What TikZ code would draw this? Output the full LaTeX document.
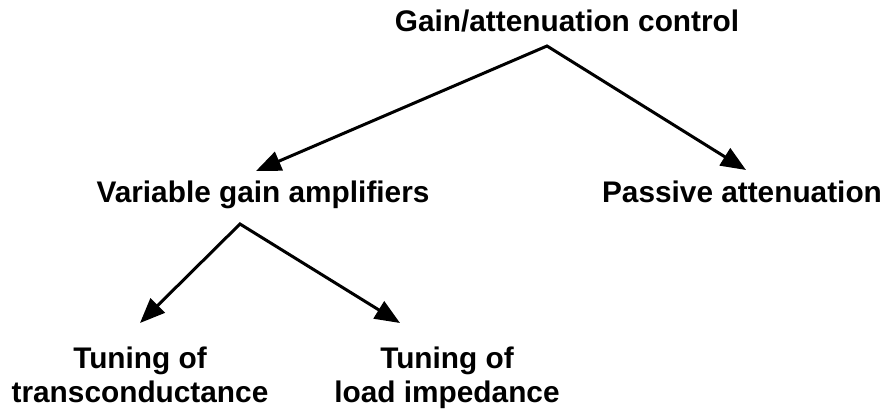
\documentclass[tikz,border=0pt]{standalone}
\usepackage{fontspec}
\setmainfont{Liberation Sans}
\usetikzlibrary{arrows.meta}
\begin{document}
\begin{tikzpicture}[x=1pt,y=-1pt,
  lbl/.style={font=\fontsize{29.8}{34}\selectfont\bfseries, inner sep=0pt, anchor=base, align=center},
  arr/.style={line width=3pt, line join=miter, {Triangle[length=25pt,width=20pt]}-{Triangle[length=25pt,width=20pt]}}]
\useasboundingbox (0,0) rectangle (885,411);
\node[lbl] (gain) at (567,32) {Gain/attenuation control};
\node[lbl] (vga) at (263,203) {Variable gain amplifiers};
\node[lbl] (pass) at (742,203) {Passive attenuation};
\node[lbl] (tgm) at (140,402) {Tuning of\\transconductance};
\node[lbl] (tload) at (447,402) {Tuning of\\load impedance};
\coordinate (top1) at (547,46);
\coordinate (endL1) at (256,171);
\coordinate (endR1) at (746,170);
\coordinate (top2) at (240,224);
\coordinate (endL2) at (140,323);
\coordinate (endR2) at (400,323);
\draw[arr] (endL1) -- (top1) -- (endR1);
\draw[arr] (endL2) -- (top2) -- (endR2);
\end{tikzpicture}
\end{document}
